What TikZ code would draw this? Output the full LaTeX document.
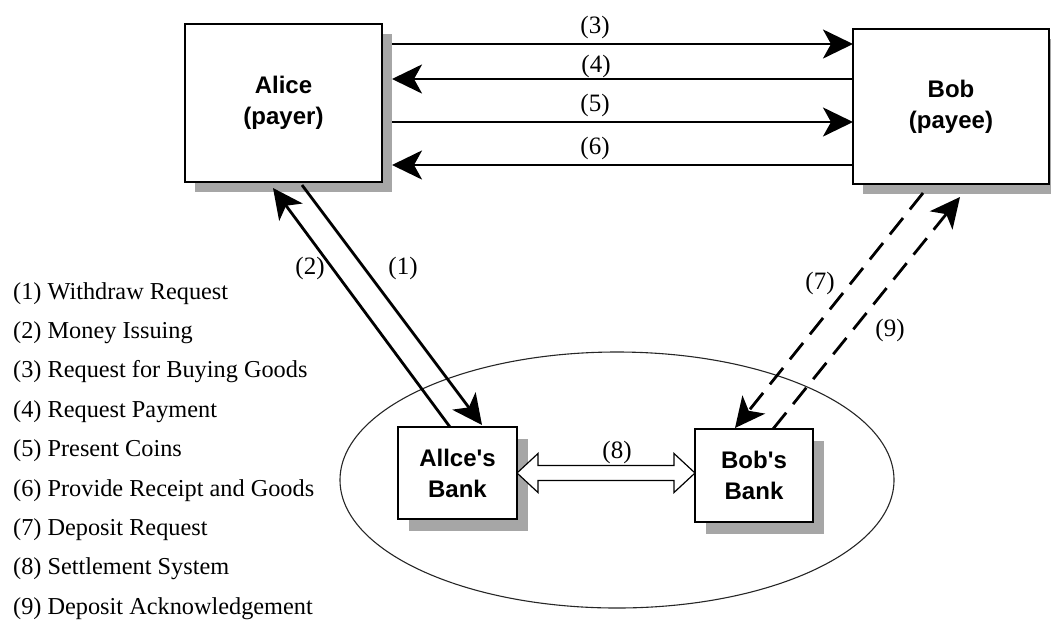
\documentclass[tikz,border=0pt]{standalone}
\usepackage{fontspec}
\setmainfont{Liberation Serif}
\newfontfamily\labelsans{Liberation Sans}
\usetikzlibrary{arrows.meta,shadows,calc}

\tikzset{
  boxbase/.style={draw=black, line width=1.4pt, fill=white, inner sep=0pt, outer sep=0pt,
    align=center, font=\labelsans\bfseries\fontsize{24}{31}\selectfont},
  partybox/.style={boxbase,
    drop shadow={shadow xshift=10pt, shadow yshift=-10pt, fill=gray!70, opacity=1}},
  bankbox/.style={boxbase,
    drop shadow={shadow xshift=11pt, shadow yshift=-12pt, fill=gray!70, opacity=1}},
  msg/.style={line width=2.8pt, -{Stealth[length=30pt, width=29pt, inset=8pt]}},
  dmsg/.style={msg, dash pattern=on 21pt off 11pt},
  num/.style={inner sep=0pt, font=\fontsize{25}{28}\selectfont},
  legend/.style={anchor=base west, inner sep=0pt, font=\fontsize{24.3}{28}\selectfont},
}

\begin{document}
\begin{tikzpicture}[x=1pt, y=-1pt]
\useasboundingbox (0,0) rectangle (1051,625);
\clip (0,0) rectangle (1051,625);

% the two trading parties
\node[partybox, minimum width=197pt, minimum height=158pt] (alice) at (283.5,103) {Alice\\(payer)};
\node[partybox, minimum width=196pt, minimum height=155pt] (bob) at (951,106.5) {Bob\\(payee)};

% banking domain
\draw[line width=1.1pt, draw=black!85] (617,480) ellipse [x radius=277, y radius=128];
\node[bankbox, minimum width=119pt, minimum height=92pt] (abank) at (457.5,473) {Allce's\\Bank};
\node[bankbox, minimum width=118pt, minimum height=93pt] (bbank) at (754,475.5) {Bob's\\Bank};

% payer <-> payee messages
\draw[msg] ($(alice.north east)+(10,20)$) -- ($(bob.north west)+(0,15)$);
\draw[msg] ($(bob.north west)+(0,50)$) -- ($(alice.north east)+(10,55)$);
\draw[msg] ($(alice.north east)+(10,98)$) -- ($(bob.north west)+(0,93)$);
\draw[msg] ($(bob.north west)+(0,136)$) -- ($(alice.north east)+(10,141)$);

% withdrawal
\draw[msg] ($(alice.south west)+(117,3)$) -- ($(abank.north west)+(84,-2)$);
\draw[msg] ($(abank.north west)+(52,0)$) -- ($(alice.south west)+(88,6)$);

% deposit
\draw[dmsg] ($(bob.south west)+(70,9)$) -- ($(bbank.north west)+(40,-1)$);
\draw[dmsg] ($(bbank.north west)+(78,0)$) -- ($(bob.south west)+(107,13)$);

% settlement: hollow double arrow
\draw[line width=1.2pt, fill=white]
  (abank.east) -- ++(21,-19.5) -- ++(0,12)
  -- ($(abank.east -| bbank.west)+(-21,-7.5)$) -- ++(0,-12)
  -- (abank.east -| bbank.west) -- ++(-21,19.5) -- ++(0,-12)
  -- ($(abank.east)+(21,7.5)$) -- ++(0,12) -- cycle;

% message numbers
\node[num] (n3) at (595,27) {(3)};
\node[num] (n4) at (596,66) {(4)};
\node[num] (n5) at (595,105) {(5)};
\node[num] (n6) at (595,148) {(6)};
\node[num] (n2) at (310,268) {(2)};
\node[num] (n1) at (403,268) {(1)};
\node[num] (n7) at (820,283) {(7)};
\node[num] (n9) at (890,330) {(9)};
\node[num] (n8) at (617,452) {(8)};

% legend
\foreach \t [count=\i] in {Withdraw Request, Money Issuing, Request for Buying Goods,
  Request Payment, Present Coins, Provide Receipt and Goods, Deposit Request,
  Settlement System, Deposit Acknowledgement}
  \node[legend] (leg\i) at (13,{299+39.4*(\i-1)}) {(\i) \t};
\end{tikzpicture}
\end{document}
